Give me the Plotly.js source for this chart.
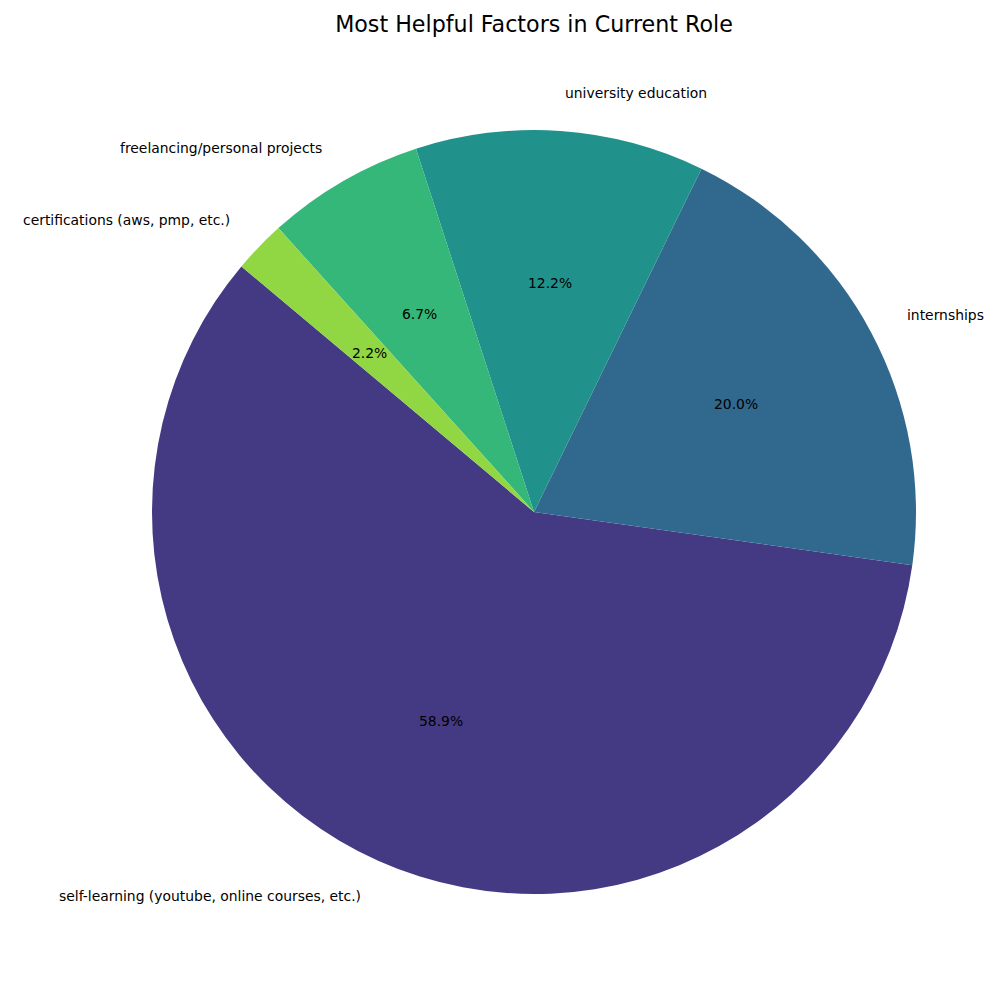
<!DOCTYPE html>
<html>
<head>
<meta charset="utf-8">
<script src="https://cdn.plot.ly/plotly-3.0.1.min.js"></script>
<style>
  html, body { margin: 0; padding: 0; background: #fff; }
  #chart { width: 1000px; height: 1000px; }
</style>
</head>
<body>
<div id="chart"></div>
<script>
// data (counts out of 90 responses)
var factors = [
  "self-learning (youtube, online courses, etc.)",
  "internships",
  "university education",
  "freelancing/personal projects",
  "certifications (aws, pmp, etc.)"
];
var counts = [53, 18, 11, 6, 2];
var sliceColors = ["#443983", "#31688e", "#21918c", "#35b779", "#90d743"];

// pie geometry in pixels (matplotlib style: startangle 140, counterclockwise)
var W = 1000, H = 1000;
var cx = 534, cy = 512, r = 382;
var startAngle = 140;

var total = counts.reduce(function (a, b) { return a + b; }, 0);

// labels outside at 1.1 r, percentages inside at 0.6 r
var annotations = [];
var angle = startAngle;
counts.forEach(function (c, i) {
  var span = 360 * c / total;
  var mid = (angle + span / 2) * Math.PI / 180;
  var ux = Math.cos(mid), uy = Math.sin(mid);
  annotations.push({
    xref: "paper", yref: "paper",
    x: (cx + 1.1 * r * ux) / W,
    y: 1 - (cy - 1.1 * r * uy) / H,
    xanchor: ux > 0 ? "left" : "right",
    yanchor: "middle",
    text: factors[i],
    showarrow: false,
    font: { size: 13.9, color: "#000" }
  });
  annotations.push({
    xref: "paper", yref: "paper",
    x: (cx + 0.6 * r * ux) / W,
    y: 1 - (cy - 0.6 * r * uy) / H,
    xanchor: "center",
    yanchor: "middle",
    text: (100 * c / total).toFixed(1) + "%",
    showarrow: false,
    font: { size: 13.9, color: "#000" }
  });
  angle += span;
});

// plotly's counterclockwise mode puts the first slice clockwise of "rotation",
// so rotate by the first slice too to get matplotlib's layout
var firstSpan = 360 * counts[0] / total;

var pieData = [{
  type: "pie",
  labels: factors,
  values: counts,
  sort: false,
  direction: "counterclockwise",
  rotation: 90 - startAngle - firstSpan + 360,
  marker: { colors: sliceColors, line: { width: 0 } },
  textinfo: "none",
  hoverinfo: "label+percent",
  domain: {
    x: [(cx - r) / W, (cx + r) / W],
    y: [1 - (cy + r) / H, 1 - (cy - r) / H]
  }
}];

var pieLayout = {
  width: W,
  height: H,
  margin: { l: 0, r: 0, t: 0, b: 0 },
  showlegend: false,
  paper_bgcolor: "#fff",
  font: { family: "DejaVu Sans, sans-serif", color: "#000" },
  title: {
    text: "Most Helpful Factors in Current Role",
    x: cx / W,
    xanchor: "center",
    y: 1 - 24 / H,
    yanchor: "middle",
    font: { size: 22.2, color: "#000" }
  },
  annotations: annotations
};

Plotly.newPlot("chart", pieData, pieLayout, { staticPlot: true });
</script>
</body>
</html>
